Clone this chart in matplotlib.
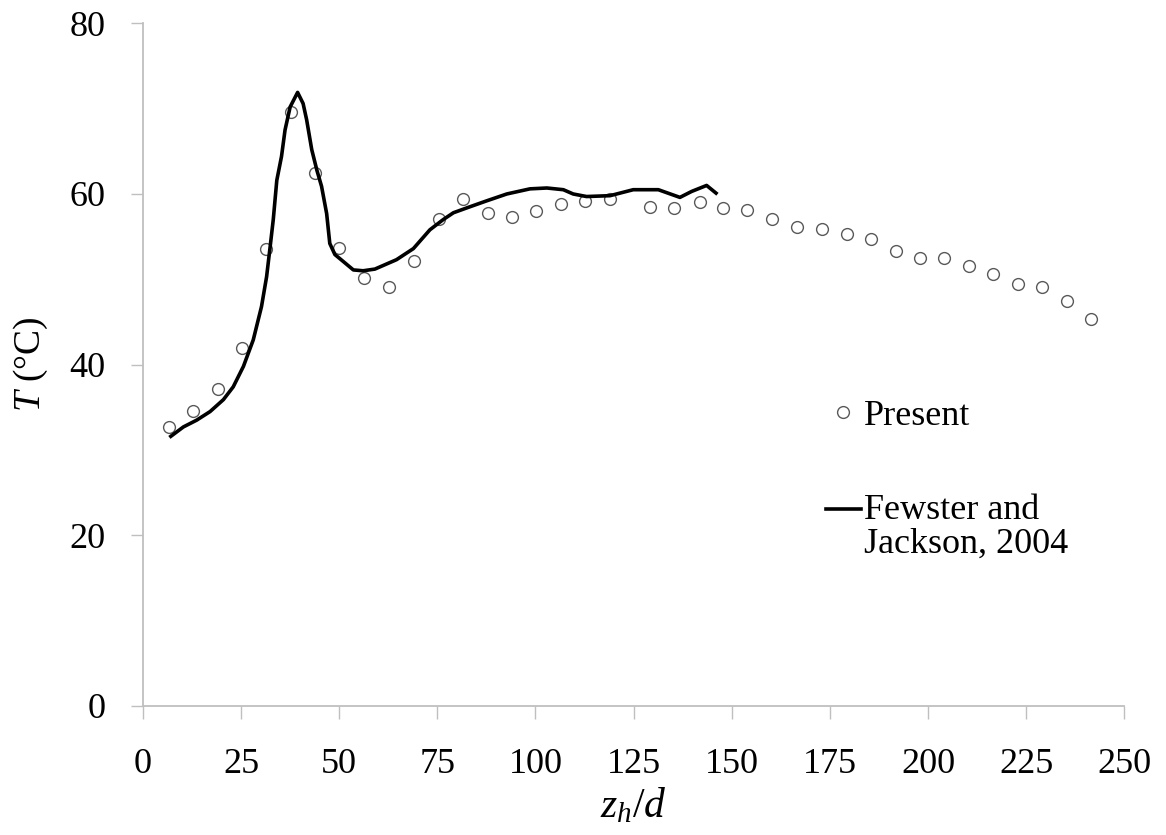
import numpy as np
import matplotlib
matplotlib.use("Agg")
import matplotlib.pyplot as plt
from matplotlib.legend_handler import HandlerLine2D

# Present results (circles)
z_present = [6.6, 12.8, 19.0, 25.3, 31.3, 37.7, 43.9, 50.0, 56.4, 62.6,
             69.1, 75.4, 81.6, 87.9, 94.1, 100.2, 106.5, 112.7, 118.9,
             129.1, 135.4, 141.9, 147.8, 154.0, 160.3, 166.6, 173.1, 179.3,
             185.6, 191.8, 198.0, 204.2, 210.5, 216.6, 222.9, 229.1, 235.3,
             241.6]
T_present = [32.7, 34.6, 37.2, 42.0, 53.6, 69.6, 62.4, 53.7, 50.1, 49.1,
             52.1, 57.1, 59.4, 57.8, 57.3, 58.0, 58.8, 59.2, 59.4,
             58.5, 58.4, 59.1, 58.3, 58.1, 57.1, 56.1, 55.9, 55.3,
             54.7, 53.3, 52.5, 52.5, 51.6, 50.6, 49.5, 49.1, 47.4,
             45.4]

# Fewster and Jackson, 2004 (solid line)
z_fj = [7.1, 10.3, 13.7, 17.1, 20.5, 23.0, 25.6, 28.1, 30.2, 31.5, 32.4,
        33.2, 34.1, 35.3, 36.2, 37.5, 39.4, 40.8, 41.7, 43.0, 44.3, 45.5,
        46.8, 47.6, 48.9, 51.0, 53.6, 56.1, 59.1, 64.6, 68.9, 73.1, 76.5,
        79.1, 83.3, 87.6, 92.7, 98.6, 102.9, 107.1, 109.6, 113.0, 119.0,
        124.9, 131.3, 136.8, 139.8, 143.6, 146.0]
T_fj = [31.6, 32.7, 33.5, 34.5, 35.9, 37.4, 39.8, 42.9, 46.8, 50.3, 53.8,
        57.0, 61.6, 64.4, 67.5, 70.2, 71.9, 70.6, 68.7, 65.2, 62.8, 60.9,
        57.7, 54.2, 52.9, 52.1, 51.1, 51.0, 51.2, 52.3, 53.6, 55.8, 57.0,
        57.8, 58.5, 59.2, 60.0, 60.6, 60.7, 60.5, 60.0, 59.7, 59.8,
        60.5, 60.5, 59.6, 60.3, 61.0, 60.1]

x_ticks = np.arange(0, 251, 25)
y_ticks = np.arange(0, 81, 20)


# legend line handle sits next to the first line of a two-line label
class HandlerTopLine(HandlerLine2D):
    def create_artists(self, legend, orig_handle, xdescent, ydescent,
                       width, height, fontsize, trans):
        artists = super().create_artists(legend, orig_handle, xdescent,
                                         ydescent, width, height, fontsize,
                                         trans)
        for a in artists:
            a.set_ydata(np.asarray(a.get_ydata()) + 0.5 * fontsize)
        return artists


plt.rcParams['font.family'] = ['Liberation Serif', 'DejaVu Serif']
plt.rcParams['mathtext.fontset'] = 'custom'
plt.rcParams['mathtext.rm'] = 'Liberation Serif'
plt.rcParams['mathtext.it'] = 'Liberation Serif:italic'

fig = plt.figure(figsize=(11.66, 8.35), dpi=100)
ax = fig.add_axes([0.1226, 0.1545, 0.8416, 0.8176])

ax.plot(z_present, T_present, linestyle='none', marker='o', markersize=8.5,
        markerfacecolor='white', markeredgecolor='#595959',
        markeredgewidth=1.0, label='Present')
fj_line, = ax.plot(z_fj, T_fj, color='black', linewidth=2.6,
                   label='Fewster and\nJackson, 2004')

ax.set_xlim(0, 250)
ax.set_ylim(0, 80)
ax.set_xticks(x_ticks)
ax.set_yticks(y_ticks)

for side in ['top', 'right']:
    ax.spines[side].set_visible(False)
for side in ['left', 'bottom']:
    ax.spines[side].set_color('#bfbfbf')
    ax.spines[side].set_linewidth(1.3)

ax.tick_params(axis='x', direction='out', length=9, width=1.0,
               color='#bfbfbf', labelsize=26, pad=21)
ax.tick_params(axis='y', direction='out', length=9, width=1.0,
               color='#bfbfbf', labelsize=26, pad=18)

ax.set_xlabel('$z_h/d$', fontsize=30, labelpad=4)
ax.set_ylabel('$T$ (°C)', fontsize=27, labelpad=14)

leg = ax.legend(loc='upper left', bbox_to_anchor=(0.678, 0.475),
                frameon=False, fontsize=26, handlelength=0.95,
                handletextpad=0.1, labelspacing=1.7, borderpad=0,
                handler_map={fj_line: HandlerTopLine()})
for t in leg.get_texts():
    t.set_linespacing(1.0)

fig.savefig('out.png', dpi=100, facecolor='white')
